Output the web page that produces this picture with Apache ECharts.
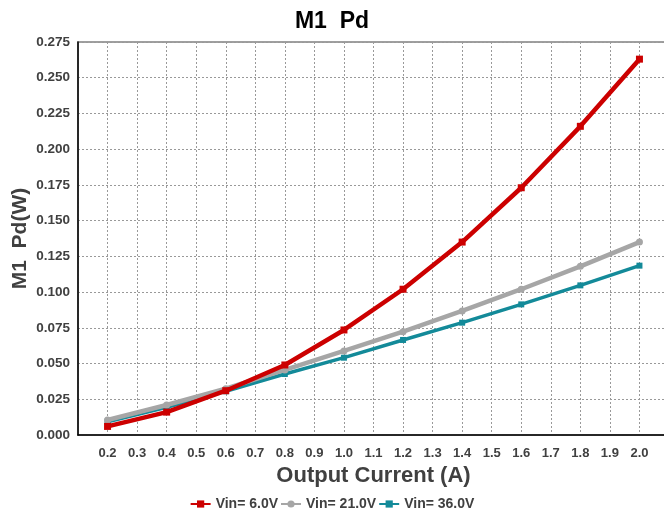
<!DOCTYPE html>
<html>
<head>
<meta charset="utf-8">
<script src="https://cdn.jsdelivr.net/npm/echarts@6/dist/echarts.min.js"></script>
<style>
html,body{margin:0;padding:0;background:#fff;}
#c{width:664px;height:511px;}
</style>
</head>
<body>
<div id="c"></div>
<script>
const current = [0.2, 0.4, 0.6, 0.8, 1.0, 1.2, 1.4, 1.6, 1.8, 2.0];
const vin6 = [0.006, 0.016, 0.031, 0.049, 0.0735, 0.102, 0.135, 0.173, 0.216, 0.263];
const vin21 = [0.0105, 0.021, 0.0324, 0.0455, 0.0588, 0.0723, 0.0868, 0.102, 0.118, 0.135];
const vin36 = [0.0093, 0.0194, 0.0306, 0.0427, 0.0541, 0.0665, 0.0786, 0.0914, 0.1047, 0.1185];
const seriesNames = ['Vin= 6.0V', 'Vin= 21.0V', 'Vin= 36.0V'];
const xTickMin = 0.2, xTickMax = 2.0;

const font = 'Liberation Sans, Arial, sans-serif';
const pair = arr => current.map((x, i) => [x, arr[i]]);

const chart = echarts.init(document.getElementById('c'), null, {renderer: 'canvas'});
chart.setOption({
  backgroundColor: '#fff',
  animation: false,
  title: {
    text: 'M1  Pd',
    left: 'center',
    top: 5,
    textStyle: {fontFamily: font, fontSize: 23, fontWeight: 'bold', color: '#000'}
  },
  legend: {
    top: 492,
    left: 'center',
    itemGap: 2,
    itemWidth: 20,
    itemHeight: 9,
    textStyle: {fontFamily: font, fontSize: 14, fontWeight: 'bold', color: '#404040'},
    data: seriesNames
  },
  grid: {left: 78, right: -5, top: 42, bottom: 76, outerBoundsMode: 'none', containLabel: false,
         show: true, borderColor: '#808080', borderWidth: 1.5, backgroundColor: 'transparent'},
  xAxis: {
    type: 'value',
    min: 0.1,
    max: 2.1,
    interval: 0.1,
    name: 'Output Current (A)',
    nameLocation: 'middle',
    nameGap: 30,
    nameMoveOverlap: false,
    nameTextStyle: {fontFamily: font, fontSize: 22, fontWeight: 'bold', color: '#404040'},
    axisLine: {show: true, lineStyle: {color: '#000', width: 1.5}},
    axisTick: {show: false},
    axisLabel: {
      fontFamily: font, fontSize: 13, fontWeight: 'bold', color: '#404040', margin: 12,
      formatter: v => (v < xTickMin - 1e-6 || v > xTickMax + 1e-6) ? '' : v.toFixed(1)
    },
    splitLine: {show: true, lineStyle: {color: '#999', type: [2, 2], width: 1}}
  },
  yAxis: {
    type: 'value',
    min: 0,
    max: 0.275,
    interval: 0.025,
    name: 'M1  Pd(W)',
    nameLocation: 'middle',
    nameGap: 47,
    nameMoveOverlap: false,
    nameTextStyle: {fontFamily: font, fontSize: 21, fontWeight: 'bold', color: '#404040'},
    axisLine: {show: true, lineStyle: {color: '#000', width: 1.5}},
    axisTick: {show: false},
    axisLabel: {
      fontFamily: font, fontSize: 13.5, fontWeight: 'bold', color: '#404040', margin: 8,
      formatter: v => v.toFixed(3)
    },
    splitLine: {show: true, lineStyle: {color: '#999', type: [2, 2], width: 1}}
  },
  series: [
    {name: seriesNames[0], type: 'line', data: pair(vin6), symbol: 'rect', symbolSize: 7,
     lineStyle: {color: '#CC0000', width: 4.5}, itemStyle: {color: '#CC0000'}, z: 4},
    {name: seriesNames[1], type: 'line', data: pair(vin21), symbol: 'circle', symbolSize: 7,
     lineStyle: {color: '#A6A6A6', width: 4.5}, itemStyle: {color: '#A6A6A6'}, z: 3},
    {name: seriesNames[2], type: 'line', data: pair(vin36), symbol: 'rect', symbolSize: 6,
     lineStyle: {color: '#138A99', width: 3.5}, itemStyle: {color: '#138A99'}, z: 2}
  ]
});
</script>
</body>
</html>
